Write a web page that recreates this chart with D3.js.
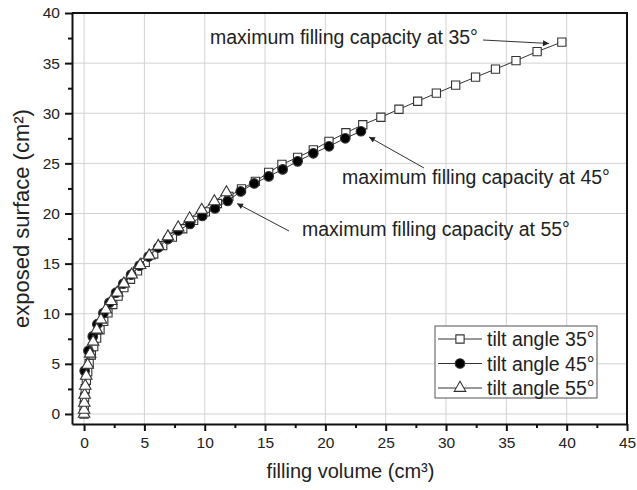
<!DOCTYPE html>
<html>
<head>
<meta charset="utf-8">
<script src="https://cdn.jsdelivr.net/npm/d3@7/dist/d3.min.js"></script>
<style>
  body { margin: 0; background: #fff; }
  svg { display: block; font-family: "Liberation Sans", Arial, sans-serif; }
</style>
</head>
<body>
<svg id="chart" width="637" height="490"></svg>
<script>
'use strict';

// tilt angle 35 (open squares)
const vol35 = [0, 0.01, 0.04, 0.1, 0.19, 0.3, 0.42, 0.6, 0.8, 1.04, 1.32, 1.63, 1.98, 2.38, 2.82, 3.3,
    3.85, 4.43, 5.07, 5.77, 6.52, 7.32, 8.18, 9.08, 10.05, 11.05, 12.0, 13.05, 14.2, 15.3, 16.4, 17.7,
    19.0, 20.3, 21.7, 23.1, 24.6, 26.1, 27.65, 29.2, 30.8, 32.45, 34.1, 35.8, 37.55, 39.6];
const surf35 = [0, 0.84, 1.68, 2.52, 3.36, 4.2, 5.04, 5.88, 6.72, 7.56, 8.4, 9.24, 10.08, 10.92, 11.76, 12.6,
    13.44, 14.28, 15.12, 15.96, 16.8, 17.64, 18.48, 19.32, 20.16, 21.0, 21.7, 22.45, 23.2, 24.1, 24.9, 25.6,
    26.35, 27.2, 28.05, 28.85, 29.6, 30.4, 31.2, 32.0, 32.8, 33.6, 34.4, 35.25, 36.15, 37.1];

// tilt angle 45 (filled circles)
const vol45 = [0.05, 0.36, 0.72, 1.1, 1.6, 2.1, 2.65, 3.25, 3.9, 4.6, 5.35, 6.15, 6.95, 7.8, 8.78, 9.8,
    10.85, 11.9, 12.98, 14.1, 15.3, 16.46, 17.7, 19.0, 20.3, 21.65, 22.95];
const surf45 = [4.3, 6.3, 7.74, 8.96, 10.06, 11.1, 12.1, 13.0, 13.9, 14.8, 15.7, 16.6, 17.45, 18.3, 18.95, 19.75,
    20.5, 21.25, 22.2, 23.0, 23.7, 24.4, 25.2, 26.0, 26.7, 27.5, 28.2];

// tilt angle 55 (open triangles)
const vol55 = [0, 0, 0.02, 0.05, 0.1, 0.18, 0.3, 0.5, 0.75, 1.05, 1.4, 1.8, 2.25, 2.75, 3.3, 3.95,
    4.65, 5.4, 6.15, 6.95, 7.8, 8.75, 9.75, 10.8, 11.8];
const surf55 = [0, 0.4, 1.1, 1.9, 2.8, 3.8, 4.9, 6.0, 7.2, 8.4, 9.4, 10.4, 11.25, 12.1, 13.0, 13.9,
    14.85, 15.8, 16.75, 17.7, 18.6, 19.5, 20.35, 21.2, 22.1];

const xTicks = [0, 5, 10, 15, 20, 25, 30, 35, 40, 45];
const yTicks = [0, 5, 10, 15, 20, 25, 30, 35, 40];
const legendLabels = ['tilt angle 35°', 'tilt angle 45°', 'tilt angle 55°'];
const noteLabels = ['maximum filling capacity at 35°', 'maximum filling capacity at 45°', 'maximum filling capacity at 55°'];

const svg = d3.select('#chart');
const W = 637, H = 490;
const pL = 72, pR = 627, pT = 13, pB = 424;

const x = d3.scaleLinear().domain([-1, 45]).range([pL, pR]);
const y = d3.scaleLinear().domain([-1, 40]).range([pB, pT]);

svg.append('rect').attr('width', W).attr('height', H).attr('fill', '#fff');

// grid
const grid = svg.append('g').attr('stroke', '#d2d2d2').attr('stroke-width', 1);
grid.selectAll('.vg').data(xTicks.filter(d => d < 45)).enter().append('line')
    .attr('x1', d => x(d)).attr('x2', d => x(d)).attr('y1', pT).attr('y2', pB);
grid.selectAll('.hg').data(yTicks.filter(d => d < 40)).enter().append('line')
    .attr('y1', d => y(d)).attr('y2', d => y(d)).attr('x1', pL).attr('x2', pR);

// axes
const minorX = d3.range(2.5, 45, 5);
const minorY = d3.range(2.5, 40, 5);

svg.append('g').attr('transform', `translate(0,${pB})`)
    .call(d3.axisBottom(x).tickValues(xTicks).tickSize(7).tickPadding(6).tickSizeOuter(0));
svg.append('g').attr('transform', `translate(0,${pB})`)
    .call(d3.axisBottom(x).tickValues(minorX).tickSize(4).tickFormat('').tickSizeOuter(0))
    .select('.domain').remove();
svg.append('g').attr('transform', `translate(${pL},0)`)
    .call(d3.axisLeft(y).tickValues(yTicks).tickSize(7).tickPadding(5).tickSizeOuter(0));
svg.append('g').attr('transform', `translate(${pL},0)`)
    .call(d3.axisLeft(y).tickValues(minorY).tickSize(4).tickFormat('').tickSizeOuter(0))
    .select('.domain').remove();

svg.selectAll('.tick line').attr('stroke', '#111').attr('stroke-width', 2);
svg.selectAll('.domain').attr('stroke', '#111').attr('stroke-width', 2);
svg.selectAll('.tick text').attr('font-size', 15.5).attr('fill', '#222')
    .attr('font-family', '"Liberation Sans", Arial, sans-serif');

// frame top & right
svg.append('path')
    .attr('d', `M${pL},${pT}H${pR}V${pB}`)
    .attr('fill', 'none').attr('stroke', '#111').attr('stroke-width', 2);

// axis titles
svg.append('text').attr('x', (pL + pR) / 2 + 1).attr('y', 478)
    .attr('text-anchor', 'middle').attr('font-size', 20).attr('fill', '#222')
    .text('filling volume (cm³)');
svg.append('text').attr('transform', `translate(29,${(pT + pB) / 2}) rotate(-90)`)
    .attr('text-anchor', 'middle').attr('font-size', 22).attr('fill', '#222')
    .text('exposed surface (cm²)');

// series
const series = [
    {vol: vol35, surf: surf35, sym: d3.symbolSquare, size: 68, fill: '#fff'},
    {vol: vol45, surf: surf45, sym: d3.symbolCircle, size: 72, fill: '#000'},
    {vol: vol55, surf: surf55, sym: d3.symbolTriangle, size: 58, fill: '#fff'}
];

const line = d3.line().x(d => x(d[0])).y(d => y(d[1]));

series.forEach(s => {
    const pts = s.vol.map((v, i) => [v, s.surf[i]]);
    const g = svg.append('g');
    g.append('path').datum(pts).attr('d', line)
        .attr('fill', 'none').attr('stroke', '#333').attr('stroke-width', 1);
    g.selectAll('path.m').data(pts).enter().append('path')
        .attr('class', 'm')
        .attr('transform', d => `translate(${x(d[0])},${y(d[1])})`)
        .attr('d', d3.symbol().type(s.sym).size(s.size))
        .attr('fill', s.fill).attr('stroke', '#333').attr('stroke-width', 1.1);
});

// annotations
svg.append('defs').append('marker')
    .attr('id', 'arr').attr('viewBox', '0 -5 10 10').attr('refX', 10).attr('refY', 0)
    .attr('markerWidth', 11).attr('markerHeight', 6).attr('markerUnits', 'userSpaceOnUse')
    .attr('orient', 'auto')
    .append('path').attr('d', 'M0,-5L10,0L0,5Z').attr('fill', '#222');

const notes = [
    {tx: 210, ty: 44, from: [483, 40], to: [549, 43.5]},
    {tx: 342, ty: 184, from: [424, 168], to: [369, 137]},
    {tx: 302, ty: 236, from: [289, 231], to: [237, 203.5]}
];
notes.forEach((n, i) => {
    svg.append('text').attr('x', n.tx).attr('y', n.ty).attr('font-size', 19.5).attr('fill', '#222')
        .text(noteLabels[i]);
    svg.append('line').attr('x1', n.from[0]).attr('y1', n.from[1]).attr('x2', n.to[0]).attr('y2', n.to[1])
        .attr('stroke', '#333').attr('stroke-width', 1).attr('marker-end', 'url(#arr)');
});

// legend
const lg = svg.append('g');
lg.append('rect').attr('x', 435).attr('y', 326).attr('width', 162).attr('height', 72)
    .attr('fill', '#fff').attr('stroke', '#555').attr('stroke-width', 1);
series.forEach((s, i) => {
    const yy = 339 + i * 24.5;
    lg.append('line').attr('x1', 438).attr('x2', 482).attr('y1', yy).attr('y2', yy)
        .attr('stroke', '#333').attr('stroke-width', 1);
    lg.append('path').attr('transform', `translate(460,${yy})`)
        .attr('d', d3.symbol().type(s.sym).size(s.size))
        .attr('fill', s.fill).attr('stroke', '#333').attr('stroke-width', 1.1);
    lg.append('text').attr('x', 487).attr('y', yy + 7).attr('font-size', 19.5).attr('fill', '#222')
        .text(legendLabels[i]);
});
</script>
</body>
</html>
